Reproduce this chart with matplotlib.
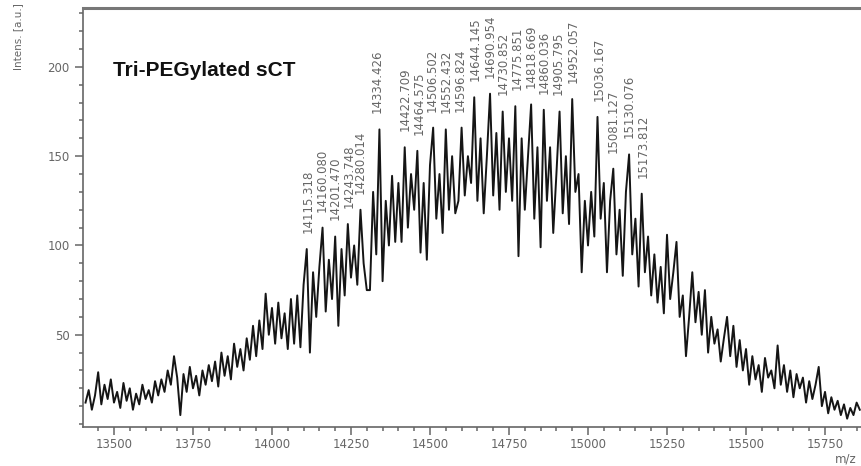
import numpy as np
import matplotlib.pyplot as plt
from matplotlib.ticker import MultipleLocator

# spectrum, m/z 13410..15860 in steps of 10
mz_start, mz_step = 13410, 10
intensity = [
    12, 19, 8, 16, 29, 11, 22, 14, 25, 12,
    18, 9, 23, 13, 20, 8, 17, 11, 22, 14,
    19, 12, 24, 16, 25, 18, 30, 22, 38, 26,
    5, 28, 18, 32, 20, 27, 16, 30, 22, 33,
    24, 35, 21, 40, 27, 38, 25, 45, 32, 42,
    30, 48, 36, 55, 38, 58, 42, 73, 50, 65,
    45, 68, 48, 62, 42, 70, 45, 72, 43, 78,
    98, 40, 85, 60, 88, 110, 63, 92, 70, 105,
    55, 98, 72, 112, 82, 100, 78, 120, 90, 75,
    75, 130, 95, 165, 80, 125, 100, 139, 102, 135,
    102, 155, 110, 140, 120, 153, 96, 135, 92, 145,
    166, 115, 140, 107, 165, 120, 150, 118, 125, 166,
    128, 150, 135, 183, 125, 160, 118, 150, 185, 128,
    163, 120, 175, 130, 160, 125, 178, 94, 160, 120,
    150, 179, 115, 155, 99, 176, 125, 155, 107, 140,
    175, 118, 150, 112, 182, 130, 140, 85, 125, 100,
    130, 105, 172, 115, 135, 85, 125, 143, 95, 120,
    83, 130, 151, 95, 115, 77, 129, 85, 105, 72,
    95, 68, 88, 62, 106, 70, 85, 102, 60, 72,
    38, 60, 85, 57, 74, 50, 75, 40, 60, 45,
    53, 35, 48, 60, 38, 55, 32, 47, 30, 42,
    22, 38, 25, 33, 18, 37, 26, 30, 20, 44,
    22, 33, 18, 30, 15, 28, 20, 26, 12, 24,
    14, 22, 32, 10, 18, 6, 15, 8, 13, 5,
    11, 3, 9, 5, 12, 8,
]
mz = mz_start + mz_step * np.arange(len(intensity))

peak_mz = [14115.318, 14160.080, 14201.470, 14243.748, 14280.014, 14334.426,
           14422.709, 14464.575, 14506.502, 14552.432, 14596.824, 14644.145,
           14690.954, 14730.852, 14775.851, 14818.669, 14860.036, 14905.795,
           14952.057, 15036.167, 15081.127, 15130.076, 15173.812]

fig = plt.figure(figsize=(8.62, 4.66), dpi=100)
ax = fig.add_axes([83/862, 1-426.7/466, 1-83/862, (426.7-8)/466])

ax.plot(mz, intensity, color='#151515', lw=1.4)

inten = np.array(intensity)
for p in peak_mz:
    near = np.abs(mz - p) <= 9
    top = inten[near].max()
    ax.text(p, top + 9, f'{p:.3f}', rotation=90, ha='center', va='bottom',
            fontsize=8.5, color='#666666', family='DejaVu Sans')

ax.set_xlim(13402, 15867)
ax.set_ylim(-1.5, 233)
ax.set_xticks([13500, 13750, 14000, 14250, 14500, 14750, 15000, 15250, 15500, 15750])
ax.xaxis.set_minor_locator(MultipleLocator(50))
ax.set_yticks([50, 100, 150, 200])
ax.yaxis.set_minor_locator(MultipleLocator(10))

for side in ['left', 'bottom']:
    ax.spines[side].set_color('#666666')
    ax.spines[side].set_linewidth(1.2)
ax.spines['top'].set_color('#777777')
ax.spines['top'].set_linewidth(2.2)
ax.spines['right'].set_visible(False)

ax.tick_params(which='major', length=6, width=1.1, color='#666666',
               labelcolor='#666666', labelsize=8.5)
ax.tick_params(which='minor', length=3, width=1.1, color='#666666')
ax.tick_params(axis='x', pad=2)

fig.text(113/862, 1-70/466, 'Tri-PEGylated sCT', fontsize=15, fontweight='bold',
         family='Liberation Sans', ha='left', va='center', color='#111111')
fig.text(18/862, 1-37/466, 'Intens. [a.u.]', rotation=90, fontsize=7.5,
         color='#666666', ha='center', va='center')
fig.text(846/862, 1-459/466, 'm/z', fontsize=8.5, color='#666666',
         ha='center', va='center')

fig.savefig('out.png', dpi=100)
